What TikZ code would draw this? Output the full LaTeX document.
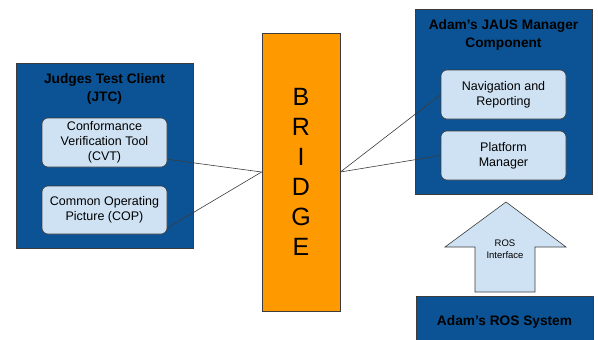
\documentclass[tikz,border=0pt]{standalone}
\usepackage{fontspec}
\setmainfont{Liberation Sans}
\definecolor{darkblue}{HTML}{0B5394}
\definecolor{paleblue}{HTML}{CFE2F3}
\definecolor{bridgeorange}{HTML}{FF9900}
\definecolor{edgegray}{HTML}{3C3C3C}
\begin{document}
\begin{tikzpicture}[
  x=1pt, y=-1pt,
  group/.style={draw=edgegray, fill=darkblue, minimum width=177pt, inner sep=0pt, line width=0.8pt},
  title/.style={align=center, font=\bfseries\fontsize{13.7}{18}\selectfont},
  part/.style={draw=edgegray, fill=paleblue, rounded corners=6pt, minimum width=125pt, minimum height=49pt, align=center, inner sep=1pt, line width=0.6pt, font=\fontsize{12.5}{15}\selectfont},
  link/.style={draw=edgegray, line width=0.6pt}
]
  \useasboundingbox (0,0) rectangle (598,340);

  % Judges Test Client
  \node[group, minimum height=185pt] (jtc) at (104.5,155.5) {};
  \node[title] (jtctitle) at (104.5,89) {Judges Test Client\\(JTC)};
  \node[part] (cvt) at (104.5,142.5) {Conformance\\Verification Tool\\(CVT)};
  \node[part, minimum height=48pt] (cop) at (104.5,210) {Common Operating\\Picture (COP)};

  % Bridge
  \node[draw=edgegray, fill=bridgeorange, minimum width=78pt, minimum height=278pt, line width=0.8pt,
        align=center, font=\fontsize{25}{30}\selectfont] (bridge) at (301,172) {B\\R\\I\\D\\G\\E};

  % JAUS manager
  \node[group, minimum height=185pt] (jaus) at (503.5,101.5) {};
  \node[title] (jaustitle) at (503.5,35) {Adam's JAUS Manager\\Component};
  \node[part] (nav) at (503.5,94.5) {Navigation and\\Reporting};
  \node[part] (platform) at (503.5,155.5) {Platform\\Manager};

  % ROS interface arrow
  \coordinate (tip) at (506,202);
  \draw[draw=edgegray, fill=paleblue, line width=0.6pt]
    (tip) -- (566,247) -- (535,247) -- (535,292) -- (475,292) -- (475,247) -- (445,247) -- cycle;
  \node[align=center, font=\fontsize{9.5}{12}\selectfont] (rosif) at (505,249) {ROS\\Interface};

  % ROS system
  \node[group, minimum height=50pt, anchor=north west] (ros) at (416,296) {};
  \node[title] (rostitle) at (504.5,322) {Adam's ROS System};

  \draw[link] (cvt.-15) -- (bridge.west);
  \draw[link] (cop.-16) -- (bridge.west);
  \draw[link] (bridge.east) -- (nav.west);
  \draw[link] (bridge.east) -- (platform.west);
\end{tikzpicture}
\end{document}
